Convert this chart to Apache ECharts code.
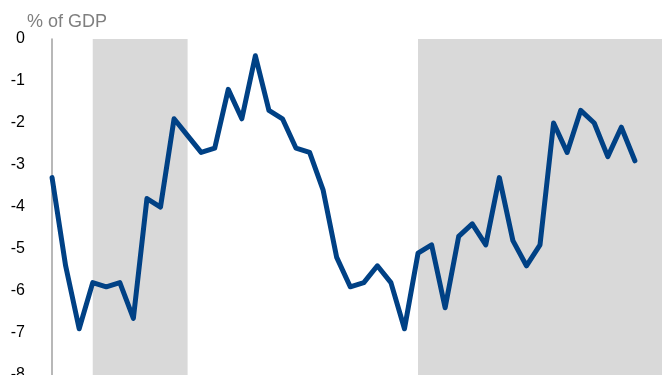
<!DOCTYPE html>
<html>
<head>
<meta charset="utf-8">
<script src="https://cdn.jsdelivr.net/npm/echarts@6/dist/echarts.min.js"></script>
<style>
html,body{margin:0;padding:0;background:#fff;}
#chart{width:665px;height:375px;}
</style>
</head>
<body>
<div id="chart"></div>
<script>
// Balance, % of GDP, one value per period (index 0..43)
const values = [-3.3, -5.4, -6.9, -5.8, -5.9, -5.8, -6.65, -3.8, -4.0, -1.9,
  -2.3, -2.7, -2.6, -1.2, -1.9, -0.4, -1.7, -1.9, -2.6, -2.7,
  -3.6, -5.2, -5.9, -5.8, -5.4, -5.8, -6.9, -5.1, -4.9, -6.4,
  -4.7, -4.4, -4.9, -3.3, -4.8, -5.4, -4.9, -2.0, -2.7, -1.7,
  -2.0, -2.8, -2.1, -2.9];
// Shaded periods (start index, end index)
const shaded = [[3, 10], [27, 45]];
const yTicks = [-8, 0, 1]; // min, max, interval
const unitLabel = '% of GDP';

const chart = echarts.init(document.getElementById('chart'), null, {renderer: 'canvas'});
chart.setOption({
  animation: false,
  title: {
    text: unitLabel, left: 22, top: 8,
    textStyle: {fontFamily: 'Liberation Sans', fontSize: 18, fontWeight: 'normal', color: '#7f7f7f'}
  },
  grid: {left: 48, right: 3, top: 39, bottom: 0, containLabel: false, outerBoundsMode: 'none'},
  xAxis: {
    type: 'value', min: -0.3, max: 45, show: false
  },
  yAxis: {
    type: 'value', min: yTicks[0], max: yTicks[1], interval: yTicks[2],
    axisLine: {show: true, lineStyle: {color: '#a0a0a0', width: 1.5}},
    axisTick: {show: false},
    splitLine: {show: false},
    axisLabel: {margin: 23, color: '#000', fontFamily: 'Liberation Sans', fontSize: 16}
  },
  series: [{
    type: 'line',
    data: values.map((v, i) => [i, v]),
    symbol: 'none',
    lineStyle: {color: '#004185', width: 5, join: 'round', cap: 'round'},
    z: 5,
    markArea: {
      silent: true,
      itemStyle: {color: '#d9d9d9'},
      data: shaded.map(s => [{xAxis: s[0]}, {xAxis: s[1]}])
    }
  }]
});
</script>
</body>
</html>
